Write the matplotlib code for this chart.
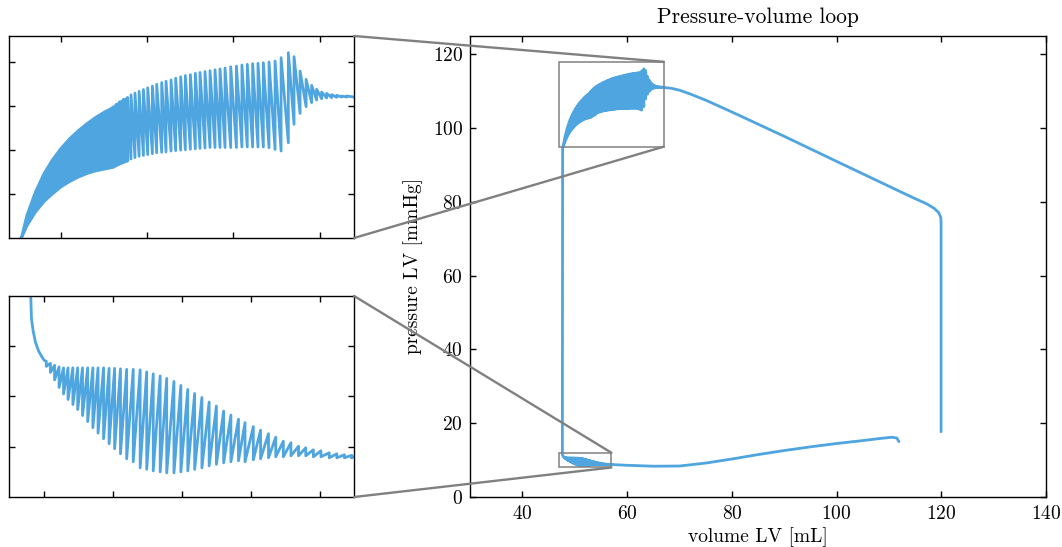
import matplotlib
matplotlib.use("Agg")
import matplotlib.pyplot as plt
from matplotlib.patches import Rectangle, ConnectionPatch

plt.rcParams['font.family'] = 'cmr10'
plt.rcParams['axes.formatter.use_mathtext'] = True
plt.rcParams['mathtext.fontset'] = 'cm'

# ---- data ----
# ejection: from the right vertical up and across to the top oscillating part
eject_v = [119.95, 119.95, 119.9, 119.5, 118.6, 117.2, 115.0, 112.0, 108.3, 100.0, 90.0, 80.0,
           75.0, 72.0, 70.0, 68.5, 67.0]
eject_p = [17.7, 74.0, 75.8, 77.1, 78.3, 79.5, 80.9, 82.9, 85.4, 91.0, 97.8, 104.4,
           107.6, 109.3, 110.3, 110.8, 111.05]

# top oscillation, turning points (volume, peak pressure, trough pressure)
top_v = [66.57, 66.28, 65.99, 65.70, 65.41, 65.12, 64.83, 64.54, 64.22, 63.87, 63.52, 63.19,
         62.77, 62.42, 62.07, 61.74, 61.43, 61.12, 60.81, 60.50, 60.18, 59.85, 59.52, 59.23,
         58.94, 58.65, 58.36, 58.07, 57.80, 57.51, 57.22, 56.95, 56.66, 56.39, 56.10, 55.85,
         55.56, 55.31, 55.04, 54.79, 54.54, 54.30, 54.07, 53.86, 53.63, 53.40, 53.20, 53.01]
top_hi = [111.17, 111.17, 111.24, 111.32, 111.47, 111.62, 111.93, 112.38, 113.06, 114.01, 115.65, 116.10,
          115.53, 115.15, 115.04, 114.96, 114.89, 114.85, 114.77, 114.70, 114.58, 114.50, 114.35, 114.25,
          114.15, 114.05, 113.95, 113.85, 113.75, 113.60, 113.50, 113.35, 113.20, 113.00, 112.85, 112.70,
          112.50, 112.30, 112.10, 111.90, 111.70, 111.50, 111.30, 111.00, 110.80, 110.50, 110.20, 109.90]
top_lo = [111.05, 111.05, 111.02, 110.98, 110.94, 110.86, 110.71, 110.41, 109.95, 109.19, 107.94, 105.85,
          104.90, 105.09, 105.28, 105.36, 105.36, 105.36, 105.36, 105.36, 105.30, 105.30, 105.30, 105.30,
          105.30, 105.30, 105.25, 105.20, 105.15, 105.10, 105.05, 105.00, 104.95, 104.90, 104.80, 104.75,
          104.70, 104.60, 104.50, 104.40, 104.30, 104.15, 104.00, 103.85, 103.70, 103.50, 103.30, 103.10]

# dense part of the top oscillation (envelopes)
dense_v = [47.68, 48.0, 48.5, 49.0, 49.5, 50.0, 50.5, 51.0, 51.5, 52.0, 52.5, 53.0, 53.4, 53.86]
dense_hi = [95.0, 97.6, 100.3, 102.4, 104.0, 105.3, 106.4, 107.3, 108.1, 108.8, 109.4, 109.9,
            110.5, 111.0]
dense_lo = [95.0, 96.4, 98.0, 99.2, 100.1, 100.9, 101.5, 102.0, 102.4, 102.7, 102.9, 103.1,
            103.5, 103.85]

# isovolumic relaxation down to the filling phase
relax_v = [47.68, 47.65, 47.63, 47.65, 47.70, 47.77, 47.86, 47.96, 48.02]
relax_p = [95.0, 50.0, 12.0, 11.55, 11.30, 11.07, 10.90, 10.78, 10.72]

# bottom oscillation, turning points
bot_v = [48.08, 48.20, 48.32, 48.45, 48.58, 48.71, 48.85, 48.99, 49.13, 49.28, 49.43, 49.58,
         49.74, 49.90, 50.06, 50.23, 50.41, 50.60, 50.80, 50.99, 51.18, 51.38, 51.57, 51.78,
         51.98, 52.18, 52.38, 52.59, 52.80, 53.01, 53.22, 53.43, 53.65, 53.84, 54.08, 54.29,
         54.52, 54.73, 54.95, 55.17, 55.39, 55.60, 55.82, 56.04, 56.28, 56.50, 56.72, 56.93]
bot_hi = [10.70, 10.66, 10.62, 10.59, 10.57, 10.57, 10.57, 10.57, 10.57, 10.57, 10.57, 10.57,
          10.57, 10.56, 10.56, 10.55, 10.54, 10.54, 10.53, 10.49, 10.45, 10.41, 10.36, 10.30,
          10.22, 10.14, 10.06, 9.98, 9.89, 9.81, 9.71, 9.63, 9.55, 9.48, 9.40, 9.33,
          9.26, 9.19, 9.11, 9.08, 9.01, 8.98, 8.94, 8.92, 8.88, 8.86, 8.84, 8.83]
bot_lo = [10.60, 10.48, 10.33, 10.18, 10.05, 9.94, 9.84, 9.74, 9.62, 9.50, 9.38, 9.27,
          9.16, 9.06, 8.96, 8.86, 8.76, 8.70, 8.58, 8.55, 8.52, 8.50, 8.48, 8.48,
          8.50, 8.52, 8.55, 8.58, 8.62, 8.65, 8.68, 8.70, 8.72, 8.70, 8.74, 8.76,
          8.78, 8.80, 8.80, 8.82, 8.82, 8.82, 8.80, 8.80, 8.78, 8.78, 8.78, 8.78]

# filling phase
fill_v = [56.93, 57.0, 60.0, 65.0, 70.0, 75.0, 80.0, 85.0, 90.0, 95.0, 100.0, 105.0, 108.5, 110.5, 111.5, 111.9]
fill_p = [8.80, 8.80, 8.60, 8.35, 8.40, 9.20, 10.30, 11.50, 12.60, 13.60, 14.50, 15.30, 15.90, 16.20, 16.00, 15.00]

blue = '#4EA5DF'
grey = '#808080'
lw = 2.0


def zigzag(v, hi, lo):
    xs, ys = [], []
    for a, b, c in zip(v, hi, lo):
        xs += [a, a]
        ys += [b, c]
    return xs, ys


top_x, top_y = zigzag(top_v, top_hi, top_lo)
bot_x, bot_y = zigzag(bot_v, bot_hi, bot_lo)
path_v = eject_v + top_x
path_p = eject_p + top_y
path2_v = relax_v + bot_x + fill_v
path2_p = relax_p + bot_y + fill_p


def draw(ax):
    ax.plot(path_v, path_p, color=blue, lw=lw, solid_joinstyle='round', solid_capstyle='round')
    ax.fill_between(dense_v, dense_lo, dense_hi, color=blue, lw=lw, edgecolor=blue)
    ax.plot(path2_v, path2_p, color=blue, lw=lw, solid_joinstyle='round', solid_capstyle='round')


fig = plt.figure(figsize=(10.62, 5.47), dpi=100)
ax = fig.add_axes([0.4426, 0.0914, 0.5424, 0.8428])
ax_top = fig.add_axes([0.0085, 0.5649, 0.3249, 0.3693])
ax_bot = fig.add_axes([0.0085, 0.0914, 0.3249, 0.3675])

draw(ax)
ax.set_xlim(30, 140)
ax.set_ylim(0, 125)
ax.set_xticks([40, 60, 80, 100, 120, 140])
ax.set_yticks([0, 20, 40, 60, 80, 100, 120])
ax.set_xlabel('volume LV [mL]', fontsize=14, labelpad=3)
ax.set_ylabel('pressure LV [mmHg]', fontsize=14, labelpad=7)
ax.set_title('Pressure-volume loop', fontsize=15.5, pad=9)
ax.tick_params(direction='in', top=True, right=True, labelsize=14, length=4, width=1)
ax.tick_params(axis='x', pad=6)
ax.tick_params(axis='y', pad=5)

for a, xl, yl, xt, yt in [(ax_top, (47, 67), (95, 118), [50, 55, 60, 65], [100, 105, 110, 115]),
                          (ax_bot, (47, 57), (8, 12), [48, 50, 52, 54, 56], [9, 10, 11])]:
    draw(a)
    a.set_xlim(*xl)
    a.set_ylim(*yl)
    a.set_xticks(xt)
    a.set_yticks(yt)
    a.tick_params(direction='in', top=True, right=True, labelbottom=False, labelleft=False,
                  length=4, width=1)
    ax.add_patch(Rectangle((xl[0], yl[0]), xl[1] - xl[0], yl[1] - yl[0], fill=False,
                           edgecolor=grey, lw=1.1, zorder=5))
    for fy, py in [(1, yl[1]), (0, yl[0])]:
        con = ConnectionPatch(xyA=(1, fy), coordsA='axes fraction', axesA=a,
                              xyB=(xl[1], py), coordsB='data', axesB=ax,
                              color=grey, lw=1.7, zorder=10)
        fig.add_artist(con)

for a in (ax, ax_top, ax_bot):
    for s in a.spines.values():
        s.set_linewidth(1.0)

fig.savefig('out.png', dpi=100)
